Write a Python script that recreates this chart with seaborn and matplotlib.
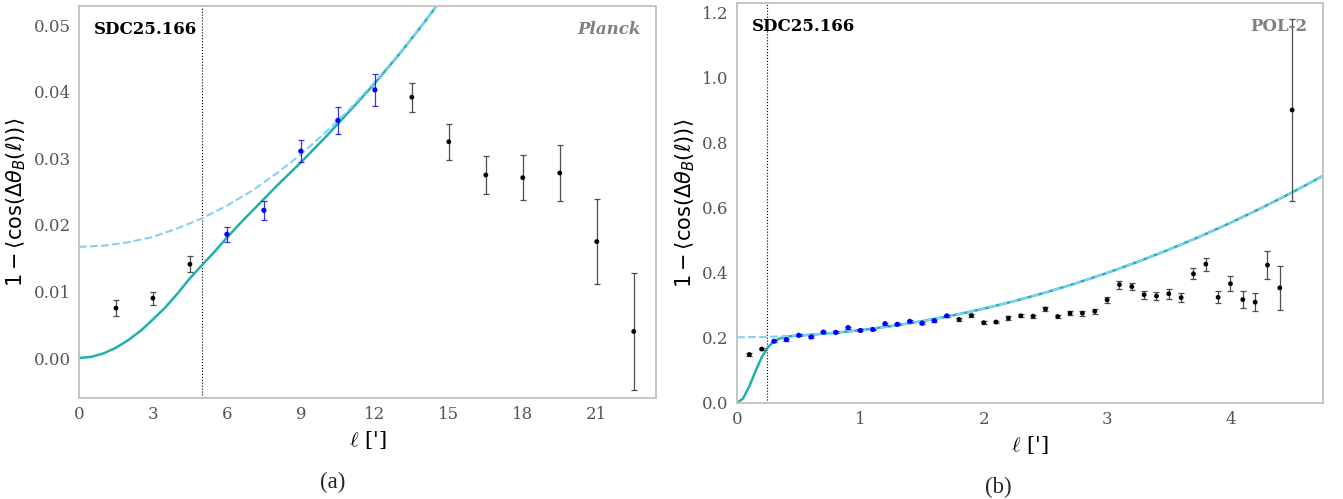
import numpy as np
import pandas as pd
import seaborn as sns
import matplotlib.pyplot as plt

# ---- (a) Planck ----
planck_l = [1.5, 3.0, 4.5, 6.0, 7.5, 9.0, 10.5, 12.0, 13.5, 15.0, 16.5, 18.0, 19.5, 21.0, 22.5]
planck_y = [0.0075, 0.0090, 0.0141, 0.0186, 0.0222, 0.0311, 0.0357, 0.0403,
            0.0392, 0.0325, 0.0275, 0.0271, 0.0278, 0.0175, 0.0040]
planck_err = [0.0012, 0.0010, 0.0012, 0.0011, 0.0014, 0.0016, 0.0020, 0.0024,
              0.0022, 0.0027, 0.0028, 0.0034, 0.0042, 0.0064, 0.0088]
planck_fit = (6.0, 12.0)
planck_beam = 5.0

planck_model_l = [0, 0.5, 1, 1.5, 2, 2.5, 3, 3.5, 4, 4.5, 5, 5.5, 6, 6.5, 7, 7.5, 8,
                  9, 10, 11, 12, 13, 14, 15]
planck_model = [0.0, 0.00018, 0.0007, 0.00155, 0.0027, 0.0041, 0.0058, 0.0076, 0.0097,
                0.0120, 0.0140, 0.0160, 0.0181, 0.0201, 0.0220, 0.0239, 0.0258,
                0.0294, 0.0332, 0.0372, 0.0413, 0.0457, 0.0504, 0.0554]
planck_large_l = [0, 1, 2, 3, 4, 5, 6, 7, 8, 9, 10, 11, 12, 13, 14, 15]
planck_large = [0.0167, 0.0169, 0.0174, 0.0182, 0.0195, 0.0210, 0.0229, 0.0251,
                0.0277, 0.0306, 0.0339, 0.0375, 0.0415, 0.0458, 0.0504, 0.0554]

# ---- (b) POL-2 ----
pol2_l = [round(0.1 * i, 1) for i in range(1, 46)]
pol2_y = [0.149, 0.166, 0.190, 0.195, 0.208, 0.203, 0.218, 0.217, 0.232, 0.223,
          0.226, 0.244, 0.242, 0.251, 0.245, 0.253, 0.268, 0.257, 0.269, 0.247,
          0.249, 0.261, 0.268, 0.267, 0.289, 0.266, 0.276, 0.276, 0.282, 0.317,
          0.364, 0.358, 0.333, 0.329, 0.336, 0.324, 0.397, 0.427, 0.325, 0.367,
          0.318, 0.310, 0.424, 0.354, 0.901]
pol2_err = [0.004, 0.004, 0.003, 0.003, 0.003, 0.003, 0.003, 0.003, 0.003, 0.003,
            0.003, 0.003, 0.003, 0.003, 0.003, 0.003, 0.003, 0.004, 0.004, 0.004,
            0.004, 0.005, 0.005, 0.005, 0.007, 0.006, 0.006, 0.007, 0.008, 0.009,
            0.012, 0.012, 0.012, 0.013, 0.015, 0.013, 0.017, 0.020, 0.019, 0.024,
            0.026, 0.027, 0.042, 0.067, 0.281]
pol2_fit = (0.3, 1.7)
pol2_beam = 0.24

pol2_model_l = [0, 0.05, 0.1, 0.15, 0.2, 0.25, 0.3, 0.35, 0.4, 0.45, 0.5, 0.6, 0.8,
                1.0, 1.25, 1.5, 1.75, 2.0, 2.25, 2.5, 2.75, 3.0, 3.25, 3.5, 3.75,
                4.0, 4.25, 4.5, 4.75]
pol2_model = [0.0, 0.0144, 0.0517, 0.0983, 0.1406, 0.1713, 0.1897, 0.1992, 0.2037,
              0.2059, 0.2075, 0.2099, 0.2161, 0.224, 0.2364, 0.2515, 0.2694, 0.290,
              0.3134, 0.3395, 0.3684, 0.400, 0.4344, 0.4715, 0.5114, 0.554, 0.5994,
              0.6475, 0.6984]
pol2_large_l = [0, 0.25, 0.5, 0.75, 1.0, 1.25, 1.5, 1.75, 2.0, 2.25, 2.5, 2.75, 3.0,
                3.25, 3.5, 3.75, 4.0, 4.25, 4.5, 4.75]
pol2_large = [0.202, 0.2034, 0.2075, 0.2144, 0.224, 0.2364, 0.2515, 0.2694, 0.290,
              0.3134, 0.3395, 0.3684, 0.400, 0.4344, 0.4715, 0.5114, 0.554, 0.5994,
              0.6475, 0.6984]

sns.set_style('white')
plt.rcParams['font.family'] = ['DejaVu Serif']
plt.rcParams['mathtext.fontset'] = 'dejavusans'

fig = plt.figure(figsize=(13.43, 4.99), dpi=100)
ax1 = fig.add_axes([0.0588, 0.2024, 0.4296, 0.7856])
ax2 = fig.add_axes([0.5488, 0.1924, 0.4363, 0.8016])


def panel(ax, l, y, err, fit, beam, ml, my, ll, ly, label, inst, inst_style):
    df = pd.DataFrame({'l': l, 'y': y, 'err': err})
    in_fit = (df['l'] >= fit[0] - 1e-9) & (df['l'] <= fit[1] + 1e-9)
    out = df[~in_fit]
    fitd = df[in_fit]
    ax.errorbar(out['l'], out['y'], yerr=out['err'], fmt='none', ecolor='0.3',
                elinewidth=0.9, capsize=2.5, capthick=0.9, zorder=3)
    ax.errorbar(fitd['l'], fitd['y'], yerr=fitd['err'], fmt='none', ecolor='blue',
                elinewidth=0.9, capsize=2.5, capthick=0.9, zorder=3, alpha=0.8)
    sns.scatterplot(data=out, x='l', y='y', ax=ax, color='black', s=12,
                    edgecolor='none', zorder=4)
    sns.scatterplot(data=fitd, x='l', y='y', ax=ax, color='blue', s=14,
                    edgecolor='none', zorder=4)
    sns.lineplot(x=ml, y=my, ax=ax, color='#20B2AA', lw=1.8, zorder=2)
    sns.lineplot(x=ll, y=ly, ax=ax, color='#87CEFA', lw=1.5, ls='--', zorder=2.5)
    ax.axvline(beam, color='k', ls=':', lw=0.8, zorder=1)
    ax.text(0.026, 0.94, label, transform=ax.transAxes, fontsize=12,
            fontweight='bold', color='black', va='center', ha='left')
    ax.text(0.973, 0.94, inst, transform=ax.transAxes, fontsize=12,
            fontweight='bold', style=inst_style, color='0.5', va='center', ha='right')
    for s in ax.spines.values():
        s.set_color('#c0c0c0')
        s.set_linewidth(1.3)
    ax.tick_params(labelsize=12, labelcolor='#555555', length=0, pad=6)
    ax.set_xlabel("$\\ell$ [']", fontsize=15, color='black', math_fontfamily='cm')
    ax.set_ylabel(r'$1 - \langle\cos(\Delta\theta_B(\ell))\rangle$', fontsize=15,
                  color='black')


panel(ax1, planck_l, planck_y, planck_err, planck_fit, planck_beam,
      planck_model_l, planck_model, planck_large_l, planck_large,
      'SDC25.166', 'Planck', 'italic')
ax1.set_xlim(0, 23.4)
ax1.set_ylim(-0.006, 0.0529)
ax1.set_xticks([0, 3, 6, 9, 12, 15, 18, 21])
ax1.set_yticks([0.0, 0.01, 0.02, 0.03, 0.04, 0.05])
ax1.set_yticklabels(['0.00', '0.01', '0.02', '0.03', '0.04', '0.05'])

panel(ax2, pol2_l, pol2_y, pol2_err, pol2_fit, pol2_beam,
      pol2_model_l, pol2_model, pol2_large_l, pol2_large,
      'SDC25.166', 'POL-2', 'normal')
ax2.set_xlim(0, 4.75)
ax2.set_ylim(0, 1.23)
ax2.set_xticks([0, 1, 2, 3, 4])
ax2.set_yticks([0.0, 0.2, 0.4, 0.6, 0.8, 1.0, 1.2])
ax2.set_yticklabels(['0.0', '0.2', '0.4', '0.6', '0.8', '1.0', '1.2'])

fig.text(333 / 1343, 1 - 482 / 499, '(a)', family='Liberation Serif', fontsize=16.5,
         ha='center', va='center')
fig.text(998 / 1343, 1 - 487 / 499, '(b)', family='Liberation Serif', fontsize=16.5,
         ha='center', va='center')

fig.savefig('out.png', dpi=100)
